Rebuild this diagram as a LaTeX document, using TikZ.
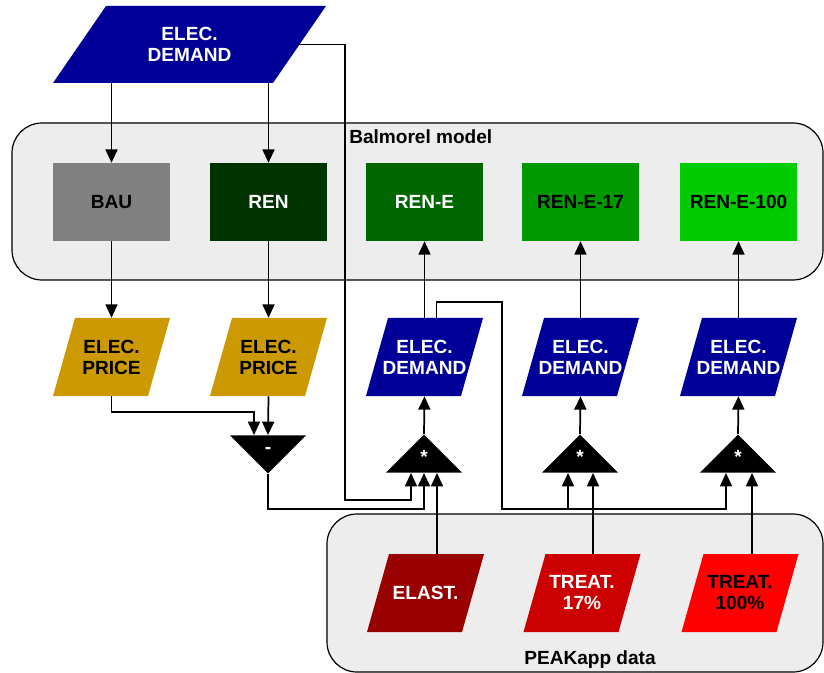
\documentclass[tikz,border=0pt]{standalone}
\usepackage{fontspec}
\setmainfont{Liberation Sans}
\usepackage{tikz}
\usetikzlibrary{shapes.geometric,arrows.meta,calc}
\definecolor{demandblue}{HTML}{000099}
\definecolor{pricegold}{HTML}{CC9900}
\definecolor{baugray}{HTML}{808080}
\definecolor{renA}{HTML}{003300}
\definecolor{renB}{HTML}{006600}
\definecolor{renC}{HTML}{009900}
\definecolor{renD}{HTML}{00CC00}
\definecolor{elastred}{HTML}{990000}
\definecolor{treatA}{HTML}{CC0000}
\definecolor{treatB}{HTML}{FF0000}
\definecolor{groupgray}{HTML}{EDEDED}
\tikzset{
	x=0.75pt, y=-0.75pt,
	every node/.style={font=\fontsize{14.3}{15.75}\selectfont\bfseries, align=center, inner sep=0pt},
	lean/.store in=\datumlean, lean=16.5pt,
	scen/.style={rectangle, minimum width=87.75pt, minimum height=58.5pt},
	datum/.style={rectangle, minimum width=87.75pt, minimum height=58.5pt,
		path picture={\fill[#1] (path picture bounding box.south west) -- ([xshift=-\datumlean]path picture bounding box.south east) -- (path picture bounding box.north east) -- ([xshift=\datumlean]path picture bounding box.north west) -- cycle;}},
	op/.style={isosceles triangle, isosceles triangle stretches, fill=black, text=white, minimum width=57pt, minimum height=28.5pt},
	flow/.style={-{Triangle[length=10pt,width=9pt]}, line width=1.3pt},
	group/.style={draw, fill=groupgray, line width=0.9pt, rounded corners=22.5pt}
}

\begin{document}
\begin{tikzpicture}
\useasboundingbox (0,0) rectangle (824,673);
\draw[group] (12,123) rectangle (823,280);
\draw[group] (327,514) rectangle (823,672);
\node[anchor=west] (balmorel) at (349,137) {Balmorel model};
\node (peakapp) at (590,660) {PEAKapp data};

\node[datum=demandblue, lean=39.75pt, minimum width=204.75pt, minimum height=57.75pt, text=white] (demand) at (189.5,44.5) {ELEC.\\DEMAND};

\node[scen, fill=baugray] (bau) at (111.5,202) {BAU};
\node[scen, fill=renA, text=white] (ren) at (268.5,202) {REN};
\node[scen, fill=renB, text=white] (rene) at (424.5,202) {REN-E};
\node[scen, fill=renC] (reneA) at (580.5,202) {REN-E-17};
\node[scen, fill=renD] (reneB) at (738.5,202) {REN-E-100};

\node[datum=pricegold] (pricebau) at (111.5,357) {ELEC.\\PRICE};
\node[datum=pricegold] (priceren) at (268.5,357) {ELEC.\\PRICE};
\node[datum=demandblue, text=white] (demE) at (424.5,357) {ELEC.\\DEMAND};
\node[datum=demandblue, text=white] (demA) at (580.5,357) {ELEC.\\DEMAND};
\node[datum=demandblue, text=white] (demB) at (738.5,357) {ELEC.\\DEMAND};

\node[op, shape border rotate=270, anchor=lower side] (diff) at (268,435) {-};
\node[op, shape border rotate=90, anchor=lower side] (mulE) at (424,473) {*};
\node[op, shape border rotate=90, anchor=lower side] (mulA) at (580,473) {*};
\node[op, shape border rotate=90, anchor=lower side] (mulB) at (738,473) {*};

\node[datum=elastred, text=white] (elast) at (425.5,593) {ELAST.};
\node[datum=treatA, text=white] (treatA) at (582,593) {TREAT.\\17\%};
\node[datum=treatB] (treatB) at (740,593) {TREAT.\\100\%};

\coordinate (diffin) at ($(diff.lower side)+(-14,0)$);
\coordinate (mulEin1) at ($(mulE.lower side)+(-13,0)$);
\coordinate (mulEin3) at ($(mulE.lower side)+(13,0)$);
\coordinate (mulAin1) at ($(mulA.lower side)+(-12,0)$);
\coordinate (mulAin2) at ($(mulA.lower side)+(13,0)$);
\coordinate (mulBin1) at ($(mulB.lower side)+(-12,0)$);
\coordinate (mulBin2) at ($(mulB.lower side)+(14,0)$);
\coordinate (bypass) at (345,500);
\coordinate (bus) at (502,509);

\draw[flow] (demand.south -| bau.north) -- (bau.north);
\draw[flow] (demand.south -| ren.north) -- (ren.north);
\draw[flow] ([xshift=-21pt]demand.east) -| (bypass) -| (mulEin1);

\draw[flow] (bau.south) -- (pricebau.north);
\draw[flow] (ren.south) -- (priceren.north);
\draw[flow] (pricebau.south) -- ++(0,16) -| (diffin);
\draw[flow] (priceren.south) -- (diff.lower side);
\draw[flow] (diff.apex) -- ++(0,35) -| (mulE.lower side);
\draw[flow] (mulEin3 |- elast.north) -- (mulEin3);

\draw[flow] (mulE.apex) -- (demE.south);
\draw[flow] (mulA.apex) -- (demA.south);
\draw[flow] (mulB.apex) -- (demB.south);
\draw[flow] (demE.north) -- (rene.south);
\draw[flow] (demA.north) -- (reneA.south);
\draw[flow] (demB.north) -- (reneB.south);

\draw[flow] ($(demE.north)+(12,0)$) -- ++(0,-16) -| (bus) -| (mulBin1);
\draw[flow] (mulAin1 |- bus) -- (mulAin1);
\draw[flow] (mulAin2 |- treatA.north) -- (mulAin2);
\draw[flow] (mulBin2 |- treatB.north) -- (mulBin2);
\end{tikzpicture}
\end{document}
